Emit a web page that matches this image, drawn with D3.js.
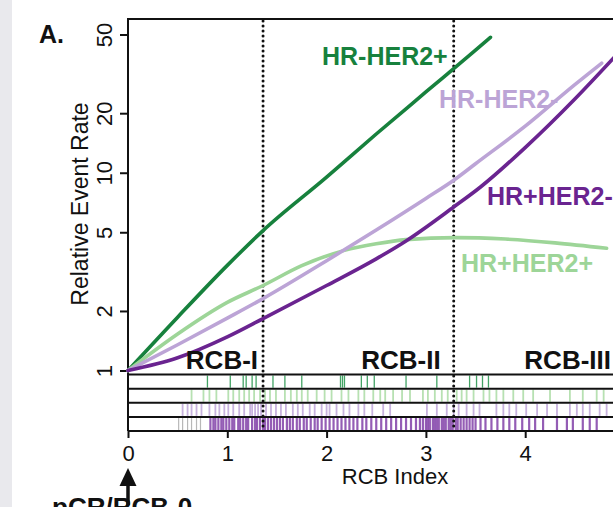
<!DOCTYPE html>
<html>
<head>
<meta charset="utf-8">
<script src="https://cdn.jsdelivr.net/npm/d3@7"></script>
<style>
    body { margin: 0; background: #fff; }
    svg { display: block; font-family: "Liberation Sans", Arial, Helvetica, sans-serif; }
</style>
</head>
<body>
<svg id="chart" width="613" height="507"></svg>
<script>
// groups, top to bottom in the rug
const groups = ["HR-HER2+", "HR+HER2+", "HR-HER2-", "HR+HER2-"];
const yTicks = [1, 2, 5, 10, 20, 50];
const xTicks = [0, 1, 2, 3, 4];
const rcbCutoffs = [1.36, 3.28];
const rcbClasses = ["RCB-I", "RCB-II", "RCB-III"];

// fitted curves (RCB index -> relative event rate)
const idxHRnHER2p = [0, 0.5, 1, 1.36, 2, 2.5, 3, 3.5, 3.65];
const rateHRnHER2p = [1, 1.86, 3.4, 5.1, 9.5, 15.7, 25.6, 41.7, 48.4];

const idxHRpHER2p = [0, 0.5, 1, 1.36, 1.75, 2.18, 2.5, 2.8, 3.3, 3.8, 4.3, 4.82];
const rateHRpHER2p = [1, 1.53, 2.21, 2.69, 3.39, 4.05, 4.37, 4.59, 4.70, 4.62, 4.42, 4.15];

const idxHRnHER2n = [0, 0.5, 1, 1.36, 2, 2.5, 3, 3.28, 3.5, 4, 4.5, 4.77];
const rateHRnHER2n = [1, 1.35, 1.84, 2.31, 3.59, 5.13, 7.41, 9.16, 11.1, 17.2, 27.9, 35.8];

const idxHRpHER2n = [0, 0.5, 1, 1.36, 2, 2.5, 2.8, 3.28, 3.55, 4, 4.5, 4.95];
const rateHRpHER2n = [1, 1.16, 1.48, 1.83, 2.69, 3.67, 4.52, 6.71, 8.47, 13.4, 23.6, 41];

// rug of observed RCB index values per group
const rugHRnHER2p = [0.80, 1.03, 1.16, 1.19, 1.25, 1.29, 1.46, 1.58, 1.75, 2.14, 2.16, 2.18,
    2.35, 2.41, 2.48, 2.80, 3.11, 3.44, 3.51, 3.57, 3.63];
const rugHRpHER2p = [0.64, 0.76, 0.82, 0.89, 1.01, 1.06, 1.12, 1.17, 1.22, 1.27, 1.33, 1.38,
    1.43, 1.49, 1.58, 1.64, 1.70, 1.75, 1.81, 1.90, 1.98, 2.05, 2.15, 2.22, 2.32, 2.38, 2.47,
    2.54, 2.59, 2.67, 2.76, 2.84, 2.97, 3.02, 3.09, 3.16, 3.22, 3.31, 3.36, 3.41, 3.48, 3.58,
    3.64, 3.71, 3.78, 3.88, 3.98, 4.08, 4.25, 4.45, 4.58, 4.72, 4.79];
const rugHRnHER2n = [0.55, 0.60, 0.64, 0.69, 0.74, 0.82, 0.88, 0.92, 0.97, 1.01, 1.06, 1.12,
    1.17, 1.23, 1.25, 1.28, 1.31, 1.34, 1.39, 1.44, 1.49, 1.54, 1.59, 1.66, 1.71, 1.76, 1.83,
    1.88, 1.95, 2.00, 2.03, 2.10, 2.17, 2.23, 2.32, 2.38, 2.46, 2.57, 2.64, 3.01, 3.11, 3.21,
    3.28, 3.33, 3.41, 3.48, 3.54, 3.71, 3.78, 3.84, 3.91, 4.01, 4.12, 4.22, 4.32, 4.45, 4.52,
    4.58, 4.65, 4.75, 4.82];
const rugHRpHER2n = [0.83, 0.86, 0.88, 0.91, 0.94, 0.96, 0.99, 1.02, 1.05, 1.07, 1.11, 1.13,
    1.16, 1.19, 1.21, 1.25, 1.28, 1.30, 1.33, 1.36, 1.38, 1.41, 1.44, 1.47, 1.50, 1.53, 1.56,
    1.60, 1.63, 1.66, 1.70, 1.73, 1.77, 1.80, 1.84, 1.88, 1.91, 1.95, 1.99, 2.03, 2.07, 2.11,
    2.15, 2.19, 2.23, 2.27, 2.31, 2.36, 2.40, 2.45, 2.50, 2.55, 2.60, 2.65, 2.70, 2.75, 2.80,
    2.85, 2.90, 2.94, 2.97, 3.00, 3.02, 3.04, 3.07, 3.09, 3.11, 3.13, 3.16, 3.18, 3.20, 3.23,
    3.25, 3.27, 3.30, 3.32, 3.35, 3.38, 3.41, 3.44, 3.47, 3.50, 3.55, 3.60, 3.66, 3.72, 3.78,
    3.84, 3.90, 3.97, 4.04, 4.10, 4.18, 4.32, 4.42, 4.48, 4.58, 4.65, 4.72];
const rugGreyHRpHER2n = [0.51, 0.55, 0.60, 0.64, 0.69, 0.73];

const lineColors = ["#17813d", "#9dd598", "#bca4d6", "#6a2490"];
const rugColors = ["#2f9a55", "#b0deaa", "#c2aadb", "#7a35a3"];
const rugWidths = [1.3, 1.8, 1.8, 2.2];

const curves = [
    {idx: idxHRnHER2p, rate: rateHRnHER2p},
    {idx: idxHRpHER2p, rate: rateHRpHER2p},
    {idx: idxHRnHER2n, rate: rateHRnHER2n},
    {idx: idxHRpHER2n, rate: rateHRpHER2n}
];
const rugs = [rugHRnHER2p, rugHRpHER2p, rugHRnHER2n, rugHRpHER2n];

const svg = d3.select("#chart");
const plotTop = 19, plotBottom = 431;

const x = d3.scaleLinear().domain([0, 5]).range([128, 624.5]);
const y = d3.scaleLog().domain([1, 50]).range([370.5, 34.5]);
const rugY = d3.scaleBand().domain(groups).range([374.5, plotBottom]);

// grey page edge
svg.append("rect").attr("x", 0).attr("y", 0).attr("width", 12).attr("height", 507).attr("fill", "#e9e9ed");

// rug ticks
groups.forEach((g, i) => {
    svg.append("g")
        .selectAll("line")
        .data(rugs[i])
        .join("line")
        .attr("x1", d => x(d)).attr("x2", d => x(d))
        .attr("y1", rugY(g) + 1).attr("y2", rugY(g) + rugY.bandwidth() - 1)
        .attr("stroke", rugColors[i])
        .attr("stroke-width", rugWidths[i])
        .attr("opacity", i === 3 ? 0.8 : 0.9);
});
svg.append("g")
    .selectAll("line")
    .data(rugGreyHRpHER2n)
    .join("line")
    .attr("x1", d => x(d)).attr("x2", d => x(d))
    .attr("y1", rugY("HR+HER2-") + 1).attr("y2", rugY("HR+HER2-") + rugY.bandwidth() - 1)
    .attr("stroke", "#b8b8b8").attr("stroke-width", 1.2);

// rug row borders
svg.append("g")
    .selectAll("line")
    .data(groups.map(g => rugY(g)).concat([plotBottom]))
    .join("line")
    .attr("x1", 128).attr("x2", 613)
    .attr("y1", d => d).attr("y2", d => d)
    .attr("stroke", "#111").attr("stroke-width", 2);

// frame top
svg.append("line").attr("x1", 128).attr("x2", 613).attr("y1", plotTop).attr("y2", plotTop)
    .attr("stroke", "#111").attr("stroke-width", 2);

// y axis
const yAxis = svg.append("g")
    .attr("transform", "translate(128,0)")
    .call(d3.axisLeft(y).tickValues(yTicks).tickSize(8).tickFormat(d3.format("d")));
yAxis.select(".domain").remove();
yAxis.selectAll(".tick line").attr("stroke", "#111").attr("stroke-width", 2);
yAxis.selectAll(".tick text")
    .attr("transform", "rotate(-90)")
    .attr("x", 0).attr("y", -16).attr("dy", 0)
    .attr("text-anchor", "middle")
    .attr("fill", "#111")
    .style("font-size", "22px");
svg.append("line").attr("x1", 128).attr("x2", 128).attr("y1", plotTop - 1).attr("y2", plotBottom)
    .attr("stroke", "#111").attr("stroke-width", 2);

// x axis
const xAxis = svg.append("g")
    .attr("transform", `translate(0,${plotBottom})`)
    .call(d3.axisBottom(x).tickValues(xTicks).tickSize(7).tickFormat(d3.format("d")));
xAxis.select(".domain").remove();
xAxis.selectAll(".tick line").attr("stroke", "#111").attr("stroke-width", 2);
xAxis.selectAll(".tick text")
    .attr("y", 30).attr("dy", 0)
    .attr("fill", "#111")
    .style("font-size", "22px");

// RCB class cutoffs
svg.append("g")
    .selectAll("line")
    .data(rcbCutoffs)
    .join("line")
    .attr("x1", d => x(d)).attr("x2", d => x(d))
    .attr("y1", plotTop + 2).attr("y2", plotBottom)
    .attr("stroke", "#111")
    .attr("stroke-width", 3)
    .attr("stroke-linecap", "round")
    .attr("stroke-dasharray", "0,5");

// curves
const line = d3.line()
    .x(d => x(d[0]))
    .y(d => y(d[1]))
    .curve(d3.curveMonotoneX);

svg.append("g")
    .selectAll("path")
    .data(curves)
    .join("path")
    .attr("fill", "none")
    .attr("stroke", (d, i) => lineColors[i])
    .attr("stroke-width", 3.6)
    .attr("stroke-linecap", "round")
    .attr("d", d => line(d.idx.map((v, j) => [v, d.rate[j]])));

// RCB class labels
const rcbEnds = [x(rcbCutoffs[0]) - 5, x(rcbCutoffs[1]) - 13, 611];
svg.append("g")
    .selectAll("text")
    .data(rcbClasses)
    .join("text")
    .attr("x", (d, i) => rcbEnds[i])
    .attr("y", 369)
    .attr("text-anchor", "end")
    .attr("fill", "#111")
    .style("font-size", "26px")
    .style("font-weight", "bold")
    .text(d => d);

// curve labels
const labelPos = [[322, 65], [461, 272], [439, 108], [487, 205]];
svg.append("g")
    .selectAll("text")
    .data(groups)
    .join("text")
    .attr("x", (d, i) => labelPos[i][0])
    .attr("y", (d, i) => labelPos[i][1])
    .attr("fill", (d, i) => lineColors[i])
    .style("font-size", "25px")
    .style("font-weight", "bold")
    .text(d => d);

// titles
svg.append("text").attr("x", 39).attr("y", 43)
    .style("font-size", "25px").style("font-weight", "bold").attr("fill", "#111").text("A.");

svg.append("text")
    .attr("transform", "translate(88,204) rotate(-90)")
    .attr("text-anchor", "middle")
    .attr("fill", "#111")
    .style("font-size", "23px")
    .text("Relative Event Rate");

svg.append("text")
    .attr("x", 395).attr("y", 484)
    .attr("text-anchor", "middle")
    .attr("fill", "#111")
    .style("font-size", "22px")
    .text("RCB Index");

// pCR arrow
const ax = x(0);
svg.append("line").attr("x1", ax).attr("x2", ax).attr("y1", 484).attr("y2", 505)
    .attr("stroke", "#111").attr("stroke-width", 3.5);
svg.append("path")
    .attr("d", `M${ax},468 L${ax - 8.5},486 L${ax + 8.5},486 Z`)
    .attr("fill", "#111");
svg.append("text")
    .attr("x", 52).attr("y", 516)
    .attr("fill", "#111")
    .style("font-size", "26px")
    .style("font-weight", "bold")
    .text("pCR/RCB-0");
</script>
</body>
</html>
